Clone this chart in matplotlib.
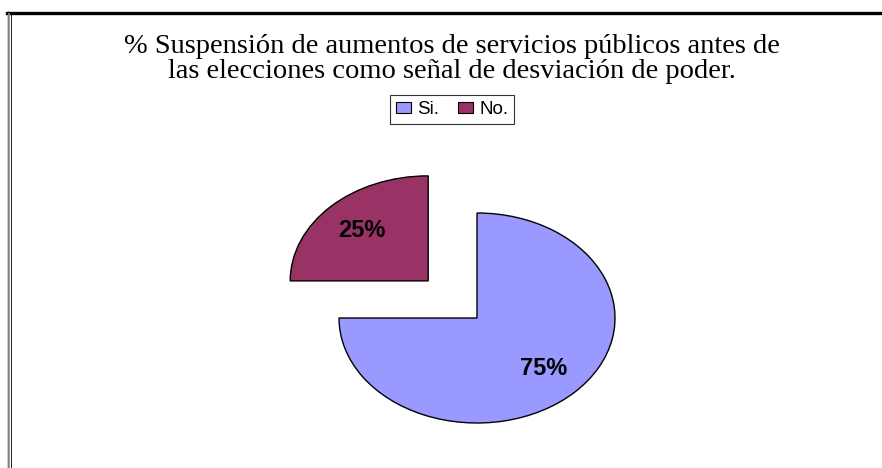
import matplotlib.pyplot as plt
from matplotlib.lines import Line2D
from matplotlib.patches import Patch

labels = ["Si.", "No."]
values = [75, 25]
colors = ["#9999FF", "#993366"]
explode = [0, 0.5]
title_lines = ["% Suspensión de aumentos de servicios públicos antes de",
               "las elecciones como señal de desviación de poder."]

W, H = 882, 468
fig = plt.figure(figsize=(W / 100, H / 100), dpi=100)

# outer frame like the original document box
fig.add_artist(Line2D([7 / W, 1], [1 - 12.5 / H, 1 - 12.5 / H], color="black", lw=2.4))
fig.add_artist(Line2D([7.5 / W, 7.5 / W], [0, 1 - 12 / H], color="black", lw=1.0))
fig.add_artist(Line2D([9 / W, 9 / W], [0, 1 - 14 / H], color="#999999", lw=1.2))
fig.add_artist(Line2D([10.5 / W, 10.5 / W], [0, 1 - 14 / H], color="black", lw=0.6))

# pie axes: centre at (477, 318) px, radius 138 px wide, 105 px tall
cx, cy = 477, 318
rx, ry = 138, 105
aw, ah = 460, 300
ax = fig.add_axes([(cx - aw / 2) / W, 0, aw / W, ah / H])

wedges, texts, autotexts = ax.pie(
    values, colors=colors, explode=explode, startangle=90, counterclock=False,
    autopct="%1.0f%%", pctdistance=0.68,
    wedgeprops=dict(edgecolor="black", linewidth=1.0),
    textprops=dict(fontsize=17, fontweight="bold", family="Liberation Sans", color="black"),
)
ax.set_aspect("auto")
ax.set_xlim(-aw / 2 / rx, aw / 2 / rx)
ax.set_ylim(-(H - cy) / ry, (ah - (H - cy)) / ry)

for i, line in enumerate(title_lines):
    fig.text(452 / W, 1 - (53 + 24.5 * i) / H, line, ha="center", va="baseline",
             fontsize=20.5, family="Liberation Serif")

handles = [Patch(facecolor=c, edgecolor="black", linewidth=0.8) for c in colors]
leg = fig.legend(handles, labels, loc="center", bbox_to_anchor=(452 / W, 1 - 109.5 / H),
                 ncol=2, frameon=True, fancybox=False, shadow=False,
                 prop=dict(family="Liberation Sans", size=13.5),
                 handlelength=0.8, handleheight=0.5, handletextpad=0.35,
                 columnspacing=1.0, borderpad=0.3, borderaxespad=0)
leg.get_frame().set_edgecolor("black")
leg.get_frame().set_linewidth(0.8)

fig.savefig("out.png", dpi=100)
